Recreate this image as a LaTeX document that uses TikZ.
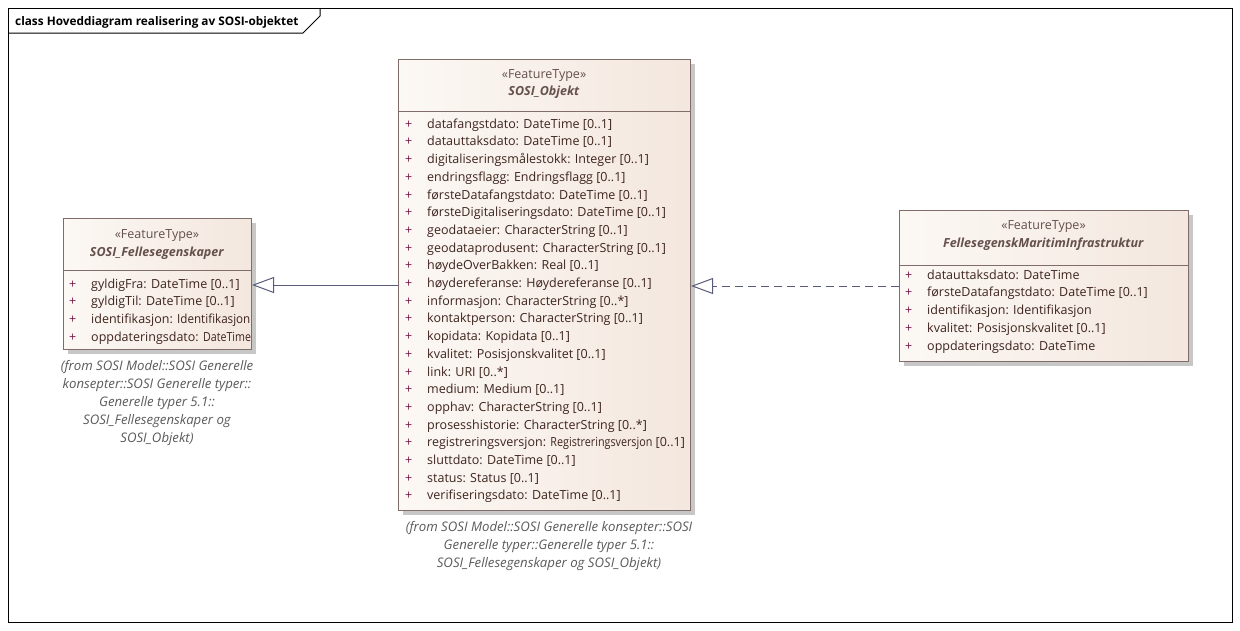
\documentclass[tikz,border=0pt]{standalone}
\usepackage{fontspec}
\setmainfont{Open Sans}
\usetikzlibrary{shapes, arrows.meta, positioning, shadows}

\definecolor{boxline}{RGB}{128,108,104}
\definecolor{boxfillL}{RGB}{252,248,244}
\definecolor{boxfillR}{RGB}{243,231,222}
\definecolor{plusred}{RGB}{120,25,75}
\definecolor{attrtext}{RGB}{62,36,30}
\definecolor{notetext}{RGB}{90,90,90}
\definecolor{linkline}{RGB}{88,92,122}

\newcommand{\attrplus}{\makebox[22pt][l]{\textcolor{plusred}{+}}}

\tikzset{
    classbox/.style={rectangle, draw=boxline, line width=1pt, left color=boxfillL, right color=boxfillR,
        anchor=north west, inner sep=0pt,
        drop shadow={shadow xshift=4pt, shadow yshift=-4pt, fill=black!22, opacity=1}},
    classhead/.style={align=center, inner sep=0pt, font=\fontsize{12.5}{17.5}\selectfont, text=attrtext!80},
    attrlist/.style={anchor=north west, align=left, inner sep=0pt, font=\fontsize{12.5}{17.7}\selectfont, text=attrtext},
    notetxt/.style={align=center, inner sep=0pt, font=\fontsize{13.2}{18.2}\selectfont\itshape, text=notetext},
    realize/.style={draw=linkline, line width=1pt, -{Triangle[open, fill=white, length=22pt, width=16pt]}}
}

\begin{document}
\begin{tikzpicture}[x=1pt, y=-1pt]
        \useasboundingbox (0,0) rectangle (1240,630);

        % Frame
        \draw[line width=1pt] (8,8) rectangle (1232,622);
        \draw[line width=1pt] (8,33) -- (303,33) -- (320,16) -- (320,8);
        \node[anchor=base west, inner sep=0pt, font=\fontsize{11.8}{14}\selectfont\bfseries] (title) at (15,25) {class Hoveddiagram realisering av SOSI-objektet};

        % Classes
        \node[classbox, minimum width=188pt, minimum height=131pt] (felles) at (63,218) {};
        \node[classbox, minimum width=292pt, minimum height=451pt] (objekt) at (398,59) {};
        \node[classbox, minimum width=289pt, minimum height=151pt] (maritim) at (899,210) {};

        % Compartment lines
        \draw[boxline, line width=1pt] ([yshift=-52pt]felles.north west) -- ([yshift=-52pt]felles.north east);
        \draw[boxline, line width=1pt] ([yshift=-52pt]objekt.north west) -- ([yshift=-52pt]objekt.north east);
        \draw[boxline, line width=1pt] ([yshift=-55pt]maritim.north west) -- ([yshift=-55pt]maritim.north east);

        % Names
        \node[classhead] (fellesname) at (157,244.5) {«FeatureType»\\\textbf{\textit{SOSI\_Fellesegenskaper}}};
        \node[classhead] (objektname) at (544,84) {«FeatureType»\\\textbf{\textit{SOSI\_Objekt}}};
        \node[classhead] (maritimname) at (1043.5,235.5) {«FeatureType»\\\textbf{\textit{FellesegenskMaritimInfrastruktur}}};

        % Attributes
        \node[attrlist] (fellesattr) at (69,278.5) {\attrplus gyldigFra: DateTime [0..1]\\
            \attrplus gyldigTil: DateTime [0..1]\\
            \attrplus identifikasjon: \scalebox{0.93}[1]{Identifikasjon}\\
            \attrplus oppdateringsdato: \resizebox{48pt}{\height}{DateTime}};
        \node[attrlist] (objektattr) at (405,118.5) {\attrplus datafangstdato: DateTime [0..1]\\
            \attrplus datauttaksdato: DateTime [0..1]\\
            \attrplus digitaliseringsmålestokk: Integer [0..1]\\
            \attrplus endringsflagg: Endringsflagg [0..1]\\
            \attrplus førsteDatafangstdato: DateTime [0..1]\\
            \attrplus førsteDigitaliseringsdato: DateTime [0..1]\\
            \attrplus geodataeier: CharacterString [0..1]\\
            \attrplus geodataprodusent: CharacterString [0..1]\\
            \attrplus høydeOverBakken: Real [0..1]\\
            \attrplus høydereferanse: Høydereferanse [0..1]\\
            \attrplus informasjon: CharacterString [0..*]\\
            \attrplus kontaktperson: CharacterString [0..1]\\
            \attrplus kopidata: Kopidata [0..1]\\
            \attrplus kvalitet: Posisjonskvalitet [0..1]\\
            \attrplus link: URI [0..*]\\
            \attrplus medium: Medium [0..1]\\
            \attrplus opphav: CharacterString [0..1]\\
            \attrplus prosesshistorie: CharacterString [0..*]\\
            \attrplus registreringsversjon: \resizebox{102pt}{\height}{Registreringsversjon} [0..1]\\
            \attrplus sluttdato: DateTime [0..1]\\
            \attrplus status: Status [0..1]\\
            \attrplus verifiseringsdato: DateTime [0..1]};
        \node[attrlist] (maritimattr) at (905,269.5) {\attrplus datauttaksdato: DateTime\\
            \attrplus førsteDatafangstdato: DateTime [0..1]\\
            \attrplus identifikasjon: Identifikasjon\\
            \attrplus kvalitet: Posisjonskvalitet [0..1]\\
            \attrplus oppdateringsdato: DateTime};

        % Notes
        \node[notetxt] (fellesnote) at (157,403) {(from SOSI Model::SOSI Generelle\\konsepter::SOSI Generelle typer::\\Generelle typer 5.1::\\SOSI\_Fellesegenskaper og\\SOSI\_Objekt)};
        \node[notetxt] (objektnote) at (549,546) {(from SOSI Model::SOSI Generelle konsepter::SOSI\\Generelle typer::Generelle typer 5.1::\\SOSI\_Fellesegenskaper og SOSI\_Objekt)};

        % Realizations
        \draw[realize] (objekt.west) -- (objekt.west -| felles.east);
        \draw[realize, dash pattern=on 8pt off 5pt] (maritim.west) -- (maritim.west -| objekt.east);
    \end{tikzpicture}
\end{document}
